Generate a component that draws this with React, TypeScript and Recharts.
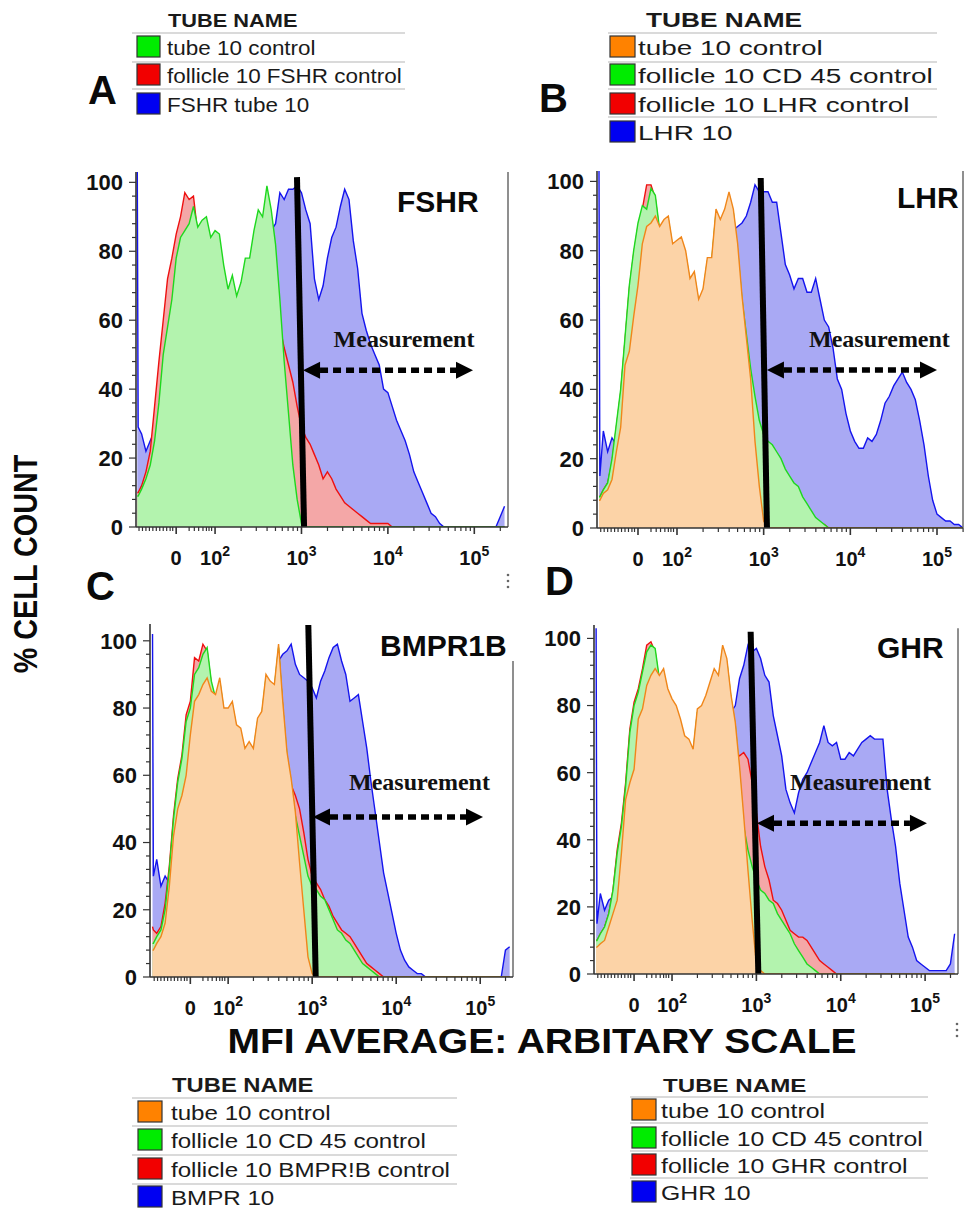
import React from "react";
import { AreaChart, Area, XAxis, YAxis, ReferenceLine, ReferenceDot } from "recharts";

const FONT = "'Liberation Sans', Arial, sans-serif";
const SERIF = "'Liberation Serif', 'Times New Roman', serif";

// display channel (log-like) positions of the histogram bins
const X = [
  1.1, 1.11, 1.15, 1.2, 1.25, 1.3, 1.35, 1.4, 1.45, 1.5, 1.55, 1.6, 1.65, 1.7, 1.75, 1.8, 1.85, 1.9, 1.95,
  2.0, 2.05, 2.1, 2.15, 2.2, 2.25, 2.3, 2.35, 2.4, 2.45, 2.5, 2.55, 2.6, 2.65, 2.7, 2.75, 2.8, 2.85, 2.9, 2.95,
  3.0, 3.05, 3.1, 3.15, 3.2, 3.25, 3.3, 3.35, 3.4, 3.45, 3.5, 3.55, 3.6, 3.65, 3.7, 3.75, 3.8, 3.85, 3.9, 3.95,
  4.0, 4.05, 4.1, 4.15, 4.2, 4.25, 4.3, 4.35, 4.4, 4.45, 4.5, 4.55, 4.6, 4.65, 4.7, 4.75, 4.8, 4.85, 4.9, 4.95,
  5.0, 5.05, 5.1, 5.15, 5.2, 5.25, 5.3, 5.35,
];

// panel A - FSHR
const A_GREEN = [9, 9,
  11, 14, 18, 25, 36, 50, 58, 66, 78, 84,
  86, 88, 93, 87, 89, 90, 84, 86, 85, 76,
  69, 73, 67, 71, 78, 78, 86, 92, 90, 99,
  92, 82, 66, 48, 33, 18, 8, 1, 0, 0,
  0, 0, 0, 0, 0, 0, 0, 0, 0, 0,
  0, 0, 0, 0, 0, 0, 0, 0, 0, 0,
  0, 0, 0, 0, 0, 0, 0, 0, 0, 0,
  0, 0, 0, 0, 0, 0, 0, 0, 0, 0,
  0, 0, 0, 0, 0];
const A_RED = [10, 10,
  12, 16, 22, 35, 48, 60, 72, 78, 85, 90,
  97, 95, 96, 85, 87, 88, 82, 84, 83, 74,
  67, 71, 65, 69, 76, 76, 84, 90, 88, 96,
  90, 78, 58, 52, 47, 42, 35, 29, 26, 24,
  21, 18, 14, 16, 14, 11, 9, 7, 6, 5,
  4, 3, 2, 1, 1, 1, 1, 1, 0, 0,
  0, 0, 0, 0, 0, 0, 0, 0, 0, 0,
  0, 0, 0, 0, 0, 0, 0, 0, 0, 0,
  0, 0, 0, 0, 0];
const A_BLUE = [103, 29,
  27, 22, 25, 28, 30, 35, 40, 45, 50, 55,
  60, 62, 64, 66, 68, 70, 70, 70, 70, 68,
  66, 66, 66, 66, 70, 74, 80, 82, 85, 86,
  86, 88, 97, 95, 98, 98, 99, 97, 92, 88,
  72, 66, 70, 78, 84, 87, 93, 98, 95, 83,
  75, 62, 57, 53, 50, 47, 40, 39, 35, 31,
  28, 25, 21, 16, 13, 10, 7, 4, 3, 1,
  0, 0, 0, 0, 0, 0, 0, 0, 0, 0,
  0, 0, 0, 3, 6];

// panel B - LHR
const B_ORANGE = [8, 8,
  10, 11, 14, 22, 29, 47, 51, 61, 70, 82,
  87, 88, 90, 87, 89, 90, 82, 83, 84, 80,
  72, 74, 66, 69, 78, 78, 92, 89, 92, 97,
  92, 82, 67, 55, 43, 25, 12, 2, 0, 0,
  0, 0, 0, 0, 0, 0, 0, 0, 0, 0,
  0, 0, 0, 0, 0, 0, 0, 0, 0, 0,
  0, 0, 0, 0, 0, 0, 0, 0, 0, 0,
  0, 0, 0, 0, 0, 0, 0, 0, 0, 0,
  0, 0, 0, 0, 0];
const B_GREEN = [9, 9,
  11, 13, 20, 30, 40, 55, 70, 80, 88, 93,
  92, 98, 96, 86, 88, 89, 81, 82, 83, 79,
  71, 73, 65, 68, 77, 77, 91, 88, 91, 96,
  91, 80, 66, 56, 46, 38, 31, 27, 25, 24,
  22, 20, 17, 15, 13, 12, 9, 7, 5, 3,
  2, 1, 0, 0, 0, 0, 0, 0, 0, 0,
  0, 0, 0, 0, 0, 0, 0, 0, 0, 0,
  0, 0, 0, 0, 0, 0, 0, 0, 0, 0,
  0, 0, 0, 0, 0];
const B_RED = [9, 9,
  11, 13, 19, 29, 39, 54, 69, 79, 87, 92,
  99, 99, 95, 85, 87, 88, 80, 81, 82, 78,
  70, 72, 64, 67, 76, 76, 90, 87, 90, 95,
  90, 79, 64, 52, 40, 30, 22, 18, 16, 15,
  14, 12, 10, 9, 8, 7, 5, 4, 3, 2,
  1, 1, 0, 0, 0, 0, 0, 0, 0, 0,
  0, 0, 0, 0, 0, 0, 0, 0, 0, 0,
  0, 0, 0, 0, 0, 0, 0, 0, 0, 0,
  0, 0, 0, 0, 0];
const B_BLUE = [103, 15,
  28, 22, 26, 24, 27, 35, 45, 55, 62, 66,
  70, 72, 74, 74, 74, 74, 74, 74, 74, 72,
  70, 70, 64, 66, 72, 74, 78, 80, 82, 84,
  86, 87, 88, 90, 94, 99, 97, 97, 97, 94,
  94, 85, 76, 73, 69, 72, 72, 68, 68, 72,
  66, 60, 58, 52, 43, 40, 33, 28, 25, 23,
  23, 26, 25, 27, 31, 36, 38, 41, 43, 45,
  42, 40, 37, 31, 24, 15, 8, 4, 3, 2,
  2, 1, 1, 0, 0];

// panel C - BMPR1B
const C_ORANGE = [8, 8,
  10, 12, 16, 27, 42, 50, 54, 60, 72, 82,
  84, 87, 89, 85, 84, 89, 80, 80, 82, 75,
  74, 68, 70, 68, 77, 79, 90, 88, 87, 99,
  82, 67, 59, 49, 34, 20, 6, 1, 0, 0,
  0, 0, 0, 0, 0, 0, 0, 0, 0, 0,
  0, 0, 0, 0, 0, 0, 0, 0, 0, 0,
  0, 0, 0, 0, 0, 0, 0, 0, 0, 0,
  0, 0, 0, 0, 0, 0, 0, 0, 0, 0,
  0, 0, 0, 0, 0];
const C_GREEN = [10, 10,
  12, 14, 20, 32, 47, 58, 65, 76, 80, 90,
  92, 96, 98, 88, 83, 88, 79, 79, 81, 74,
  73, 67, 69, 67, 76, 78, 89, 87, 86, 98,
  80, 66, 58, 48, 42, 36, 30, 27, 26, 24,
  23, 20, 17, 14, 13, 11, 10, 8, 6, 4,
  3, 2, 1, 0, 0, 0, 0, 0, 0, 0,
  0, 0, 0, 0, 0, 0, 0, 0, 0, 0,
  0, 0, 0, 0, 0, 0, 0, 0, 0, 0,
  0, 0, 0, 0, 0];
const C_RED = [15, 14,
  13, 15, 22, 33, 48, 59, 66, 78, 82, 95,
  94, 99, 97, 87, 82, 87, 78, 78, 80, 73,
  72, 66, 68, 66, 75, 77, 88, 86, 85, 97,
  80, 64, 57, 54, 50, 43, 35, 30, 28, 26,
  23, 21, 18, 16, 14, 13, 12, 10, 8, 6,
  4, 3, 2, 1, 0, 0, 0, 0, 0, 0,
  0, 0, 0, 0, 0, 0, 0, 0, 0, 0,
  0, 0, 0, 0, 0, 0, 0, 0, 0, 0,
  0, 0, 0, 0, 0];
const C_BLUE = [102, 30,
  35, 27, 30, 28, 30, 40, 50, 58, 65, 70,
  72, 74, 74, 74, 74, 74, 72, 72, 70, 68,
  66, 64, 64, 64, 70, 74, 76, 80, 82, 94,
  96, 97, 99, 93, 90, 89, 88, 86, 83, 88,
  91, 95, 98, 99, 94, 90, 82, 83, 84, 76,
  68, 58, 49, 40, 31, 25, 19, 13, 8, 5,
  3, 2, 1, 1, 0, 0, 0, 0, 0, 0,
  0, 0, 0, 0, 0, 0, 0, 0, 0, 0,
  0, 0, 0, 8, 9];

// panel D - GHR
const D_ORANGE = [8, 8,
  9, 10, 14, 18, 22, 36, 52, 57, 61, 76,
  79, 86, 89, 91, 89, 91, 85, 82, 80, 76,
  71, 70, 67, 79, 80, 83, 87, 91, 89, 98,
  94, 83, 75, 62, 47, 31, 16, 3, 1, 0,
  0, 0, 0, 0, 0, 0, 0, 0, 0, 0,
  0, 0, 0, 0, 0, 0, 0, 0, 0, 0,
  0, 0, 0, 0, 0, 0, 0, 0, 0, 0,
  0, 0, 0, 0, 0, 0, 0, 0, 0, 0,
  0, 0, 0, 0, 0];
const D_GREEN = [10, 10,
  12, 14, 18, 25, 36, 44, 56, 72, 80, 84,
  90, 96, 98, 97, 88, 90, 84, 81, 79, 75,
  70, 69, 66, 78, 79, 82, 86, 90, 88, 97,
  93, 82, 74, 60, 44, 37, 32, 28, 25, 24,
  22, 21, 18, 16, 14, 12, 9, 7, 5, 3,
  2, 1, 0, 0, 0, 0, 0, 0, 0, 0,
  0, 0, 0, 0, 0, 0, 0, 0, 0, 0,
  0, 0, 0, 0, 0, 0, 0, 0, 0, 0,
  0, 0, 0, 0, 0];
const D_RED = [10, 10,
  12, 14, 18, 25, 37, 45, 57, 73, 81, 85,
  91, 98, 99, 96, 87, 89, 83, 80, 78, 74,
  69, 68, 65, 77, 78, 81, 85, 89, 87, 96,
  92, 80, 66, 65, 66, 64, 57, 48, 38, 32,
  28, 22, 21, 19, 16, 13, 12, 11, 11, 10,
  8, 6, 4, 3, 2, 1, 0, 0, 0, 0,
  0, 0, 0, 0, 0, 0, 0, 0, 0, 0,
  0, 0, 0, 0, 0, 0, 0, 0, 0, 0,
  0, 0, 0, 0, 0];
const D_BLUE = [103, 15,
  24, 19, 22, 23, 28, 34, 42, 50, 56, 62,
  66, 70, 72, 72, 72, 72, 72, 72, 70, 68,
  66, 64, 62, 66, 70, 72, 76, 78, 80, 80,
  80, 78, 80, 88, 92, 98, 96, 97, 94, 89,
  87, 77, 71, 65, 55, 51, 48, 54, 58, 60,
  63, 66, 69, 74, 69, 68, 69, 64, 64, 66,
  65, 67, 69, 70, 71, 70, 70, 70, 55, 46,
  38, 27, 19, 11, 8, 4, 3, 2, 1, 1,
  1, 1, 1, 3, 12];

const Y_TICKS = [0, 4, 8, 12, 16, 20, 24, 28, 32, 36, 40, 44, 48, 52, 56, 60, 64, 68, 72, 76, 80, 84, 88, 92, 96, 100];
const X_MAJOR = [1.55, 2, 3, 4, 5];
const X_MAJOR_LABELS = ["0", "2", "3", "4", "5"];
const X_NEAR_ZERO = [1.12, 1.16, 1.2, 1.24, 1.28, 1.32, 1.36, 1.4, 1.44, 1.48, 1.51, 1.7, 1.76, 1.81, 1.86, 1.9, 1.93, 1.96];
const DECADE_STEPS = [0.301, 0.477, 0.602, 0.699, 0.778, 0.845, 0.903, 0.954];
const X_TICKS = [
  ...X_MAJOR,
  ...X_NEAR_ZERO,
  ...[2, 3, 4].flatMap((d) => DECADE_STEPS.map((s) => d + s)),
  5.301,
].sort((a, b) => a - b);

const COLORS: Record<string, { stroke: string; fill: string }> = {
  blue: { stroke: "#1414ee", fill: "#a9a9f4" },
  red: { stroke: "#ee1010", fill: "#f4a7a7" },
  green: { stroke: "#1ed81e", fill: "#b3f3ae" },
  orange: { stroke: "#f0861a", fill: "#fcd3a7" },
};

const YW = 60;
const XH = 50;
const MT = 10;
const MR = 6;

type PanelDef = {
  left: number; top: number; w: number; h: number;
  xDomain: [number, number]; yMax: number; borderTop: number;
  series: [string, number[]][];
  gate: [number, number, number];
  arrow: [number, number, number];
  label: [number, number];
};

const PANELS: PanelDef[] = [
  { left: 136, top: 172, w: 372, h: 355, xDomain: [1.085, 5.39], yMax: 103, borderTop: 103,
    series: [["blue", A_BLUE], ["red", A_RED], ["green", A_GREEN]],
    gate: [2.948, 101.5, 3.03], arrow: [3.018, 4.985, 45.5], label: [4.187, 52.2] },
  { left: 597, top: 171, w: 366, h: 357, xDomain: [1.077, 5.3], yMax: 103, borderTop: 103,
    series: [["blue", B_BLUE], ["red", B_RED], ["green", B_GREEN], ["orange", B_ORANGE]],
    gate: [2.966, 101, 3.038], arrow: [3.038, 5.0, 45.6], label: [4.336, 52.2] },
  { left: 150, top: 624, w: 363, h: 353, xDomain: [1.07, 5.39], yMax: 105, borderTop: 94,
    series: [["blue", C_BLUE], ["red", C_RED], ["green", C_GREEN], ["orange", C_ORANGE]],
    gate: [2.954, 104.7, 3.042], arrow: [3.01, 5.033, 47.6], label: [4.277, 55.6] },
  { left: 594, top: 625, w: 364, h: 349, xDomain: [1.075, 5.39], yMax: 104, borderTop: 103,
    series: [["blue", D_BLUE], ["red", D_RED], ["green", D_GREEN], ["orange", D_ORANGE]],
    gate: [2.932, 102, 3.023], arrow: [3.007, 5.022, 44.9], label: [4.234, 54.8] },
];

function XTick(props: any) {
  const { x, y, payload } = props;
  const mi = X_MAJOR.findIndex((m) => Math.abs(m - payload.value) < 1e-6);
  if (mi < 0) {
    return <line x1={x} x2={x} y1={y} y2={y + 4} stroke="#333" strokeWidth={1.2} />;
  }
  const lab = X_MAJOR_LABELS[mi];
  return (
    <g>
      <line x1={x} x2={x} y1={y} y2={y + 7} stroke="#333" strokeWidth={1.6} />
      {lab === "0" ? (
        <text x={x} y={y + 38} textAnchor="middle" fontSize={20} fontWeight="bold" fontFamily={FONT} fill="#111">0</text>
      ) : (
        <text x={x} y={y + 38} textAnchor="middle" fontSize={20} fontWeight="bold" fontFamily={FONT} fill="#111">
          10<tspan dy={-9} fontSize={14}>{lab}</tspan>
        </text>
      )}
    </g>
  );
}

function YTick(props: any) {
  const { x, y, payload } = props;
  const major = payload.value % 20 === 0;
  return (
    <g>
      <line x1={x - (major ? 7 : 4)} x2={x} y1={y} y2={y} stroke="#333" strokeWidth={1.2} />
      {major && (
        <text x={x - 13} y={y} dy="0.36em" textAnchor="end" fontSize={22} fontWeight="bold" fontFamily={FONT} fill="#111">
          {payload.value}
        </text>
      )}
    </g>
  );
}

const ArrowShape = (p: any) => {
  const { x1, x2, y1 } = p;
  const ah = 17;
  const hw = 8.5;
  return (
    <g>
      <line x1={x1 + ah} x2={x2 - ah} y1={y1} y2={y1} stroke="#000" strokeWidth={5.5} strokeDasharray="8 5" />
      <polygon points={`${x1},${y1} ${x1 + ah},${y1 - hw} ${x1 + ah},${y1 + hw}`} fill="#000" />
      <polygon points={`${x2},${y1} ${x2 - ah},${y1 - hw} ${x2 - ah},${y1 + hw}`} fill="#000" />
    </g>
  );
};

const MeasureText = (p: any) => (
  <text x={p.cx} y={p.cy} textAnchor="middle" fontSize={24} fontWeight="bold" fontFamily={SERIF} fill="#111">
    Measurement
  </text>
);

function Panel({ p }: { p: PanelDef }) {
  const rows = X.map((x, i) => {
    const r: Record<string, number> = { x };
    p.series.forEach(([k, v]) => {
      r[k] = v[i];
    });
    return r;
  });
  const xr = p.xDomain[1];
  return (
    <div style={{ position: "absolute", left: p.left - YW, top: p.top - MT }}>
      <AreaChart width={YW + p.w + MR} height={MT + p.h + XH} data={rows} margin={{ top: MT, right: MR, bottom: 0, left: 0 }}>
        <XAxis
          dataKey="x"
          type="number"
          domain={p.xDomain}
          ticks={X_TICKS}
          interval={0}
          allowDataOverflow
          height={XH}
          tickSize={0}
          tickMargin={0}
          tickLine={false}
          axisLine={{ stroke: "#333", strokeWidth: 1.6 }}
          tick={(t: any) => <XTick {...t} />}
        />
        <YAxis
          type="number"
          domain={[0, p.yMax]}
          ticks={Y_TICKS}
          interval={0}
          allowDataOverflow
          width={YW}
          tickSize={0}
          tickMargin={0}
          tickLine={false}
          axisLine={{ stroke: "#333", strokeWidth: 1.6 }}
          tick={(t: any) => <YTick {...t} />}
        />
        {p.series.map(([k]) => (
          <Area
            key={k}
            type="linear"
            dataKey={k}
            stroke={COLORS[k].stroke}
            strokeWidth={1.4}
            fill={COLORS[k].fill}
            fillOpacity={1}
            dot={false}
            activeDot={false}
            isAnimationActive={false}
          />
        ))}
        <ReferenceLine segment={[{ x: xr, y: 0 }, { x: xr, y: p.borderTop }]} stroke="#6a6a6a" strokeWidth={1.5} ifOverflow="visible" />
        <ReferenceLine segment={[{ x: p.gate[0], y: p.gate[1] }, { x: p.gate[2], y: 0 }]} stroke="#000" strokeWidth={6} ifOverflow="visible" />
        <ReferenceLine segment={[{ x: p.arrow[0], y: p.arrow[2] }, { x: p.arrow[1], y: p.arrow[2] }]} ifOverflow="visible" shape={ArrowShape} />
        <ReferenceDot x={p.label[0]} y={p.label[1]} r={0} ifOverflow="visible" shape={MeasureText} />
      </AreaChart>
    </div>
  );
}

type LegendDef = {
  labels: string[]; colors: string[];
  titleX: number; titleY: number; titleSize: number; titleScale: number;
  sepX1: number; sepX2: number; seps: number[];
  swX: number; swW: number; textX: number; baselines: number[]; textSize: number; textScale: number;
};

const SWATCH: Record<string, string> = { blue: "#0000f2", red: "#f20000", green: "#00ec00", orange: "#ff8200" };

const LEGENDS: LegendDef[] = [
  { labels: ["tube 10 control", "follicle 10 FSHR control", "FSHR tube 10"], colors: ["green", "red", "blue"],
    titleX: 168, titleY: 27, titleSize: 18, titleScale: 1.21, sepX1: 132, sepX2: 405, seps: [33, 62, 89],
    swX: 137, swW: 23, textX: 167, baselines: [55, 83, 112], textSize: 21, textScale: 1.07 },
  { labels: ["tube 10 control", "follicle 10 CD 45 control", "follicle 10 LHR control", "LHR 10"], colors: ["orange", "green", "red", "blue"],
    titleX: 646, titleY: 27, titleSize: 21, titleScale: 1.25, sepX1: 608, sepX2: 937, seps: [33, 62, 89, 117],
    swX: 610, swW: 25, textX: 638, baselines: [55, 83, 112, 140], textSize: 21, textScale: 1.33 },
  { labels: ["tube 10 control", "follicle 10 CD 45 control", "follicle 10 BMPR!B control", "BMPR 10"], colors: ["orange", "green", "red", "blue"],
    titleX: 172, titleY: 1092, titleSize: 20, titleScale: 1.19, sepX1: 132, sepX2: 457, seps: [1098, 1126, 1155, 1184],
    swX: 138, swW: 24, textX: 171, baselines: [1120, 1148, 1177, 1205], textSize: 21, textScale: 1.15 },
  { labels: ["tube 10 control", "follicle 10 CD 45 control", "follicle 10 GHR control", "GHR 10"], colors: ["orange", "green", "red", "blue"],
    titleX: 663, titleY: 1092, titleSize: 19, titleScale: 1.27, sepX1: 630, sepX2: 928, seps: [1097, 1123, 1151, 1178],
    swX: 632, swW: 24, textX: 661, baselines: [1118, 1146, 1173, 1200], textSize: 20, textScale: 1.24 },
];

function LegendBox({ d }: { d: LegendDef }) {
  return (
    <g fontFamily={FONT} fill="#1a1a1a">
      <text transform={`translate(${d.titleX},${d.titleY}) scale(${d.titleScale},1)`} fontSize={d.titleSize} fontWeight="bold">
        TUBE NAME
      </text>
      {d.seps.map((y) => (
        <line key={y} x1={d.sepX1} x2={d.sepX2} y1={y} y2={y} stroke="#dadada" strokeWidth={2} />
      ))}
      {d.labels.map((lab, i) => (
        <g key={lab}>
          <rect x={d.swX} y={d.baselines[i] - 19} width={d.swW} height={21} fill={SWATCH[d.colors[i]]} stroke="#333" strokeWidth={1.2} />
          <text transform={`translate(${d.textX},${d.baselines[i]}) scale(${d.textScale},1)`} fontSize={d.textSize}>
            {lab}
          </text>
        </g>
      ))}
    </g>
  );
}

const LETTERS: [string, number, number][] = [["A", 88, 104], ["B", 539, 112], ["C", 86, 600], ["D", 545, 595]];
const TITLES: [string, number, number][] = [["FSHR", 397, 212], ["LHR", 897, 208], ["BMPR1B", 380, 656], ["GHR", 877, 658]];

export default function App() {
  return (
    <div style={{ position: "absolute", left: 0, top: 0, width: 965, height: 1210, overflow: "hidden", background: "#fff", fontFamily: FONT }}>
      {PANELS.map((p, i) => (
        <Panel key={i} p={p} />
      ))}
      <svg width={965} height={1210} style={{ position: "absolute", left: 0, top: 0, pointerEvents: "none" }}>
        {LEGENDS.map((d, i) => (
          <LegendBox key={i} d={d} />
        ))}
        {LETTERS.map(([t, x, y]) => (
          <text key={t} x={x} y={y} fontSize={40} fontWeight="bold" fontFamily={FONT} fill="#0a0a0a">{t}</text>
        ))}
        {TITLES.map(([t, x, y]) => (
          <text key={t} x={x} y={y} fontSize={30} fontWeight="bold" fontFamily={FONT} fill="#0a0a0a">{t}</text>
        ))}
        <text transform="translate(37,564) rotate(-90) scale(0.96,1.1)" textAnchor="middle" fontSize={30} fontWeight="bold" fontFamily={FONT} fill="#0a0a0a">
          % CELL COUNT
        </text>
        <text transform="translate(542,1053) scale(1.085,1)" textAnchor="middle" fontSize={36} fontWeight="bold" fontFamily={FONT} fill="#0a0a0a">
          MFI AVERAGE: ARBITARY SCALE
        </text>
        {[575, 581, 587].map((y) => (
          <circle key={"a" + y} cx={508} cy={y} r={1.3} fill="#666" />
        ))}
        {[1024, 1030, 1036].map((y) => (
          <circle key={"b" + y} cx={957} cy={y} r={1.3} fill="#666" />
        ))}
      </svg>
    </div>
  );
}
